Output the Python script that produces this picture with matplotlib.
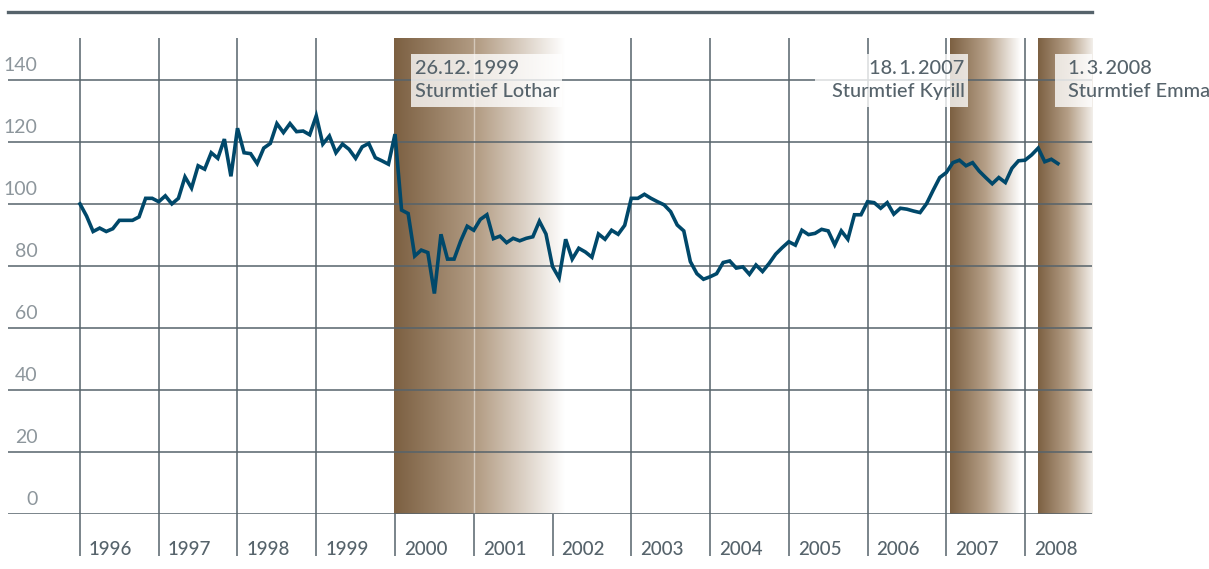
import numpy as np
import matplotlib
matplotlib.use("Agg")
import matplotlib.pyplot as plt
from matplotlib.colors import LinearSegmentedColormap
from matplotlib.lines import Line2D
from matplotlib.patches import Rectangle

# monthly index values, Jan 1996 .. Jun 2008
values = [
    100.0, 96.1, 91.1, 92.2, 91.1, 92.0, 94.7, 94.7, 94.7, 95.8, 101.8, 101.8,
    100.7, 102.6, 100.0, 101.8, 108.7, 105.1, 112.3, 111.2, 116.5, 114.7, 120.9, 108.9,
    124.4, 116.5, 116.2, 113.0, 118.0, 119.5, 125.9, 123.0, 125.9, 123.3, 123.5, 122.3,
    128.4, 119.3, 121.9, 116.5, 119.3, 117.6, 114.7, 118.4, 119.5, 114.9, 113.9, 112.8,
    122.5, 98.0, 96.9, 83.2, 85.1, 84.3, 71.1, 90.2, 82.2, 82.2, 88.0, 92.8,
    91.5, 95.0, 96.5, 88.8, 89.6, 87.5, 88.9, 88.1, 88.9, 89.4, 94.4, 90.3,
    79.8, 76.1, 88.6, 82.2, 85.7, 84.5, 82.8, 90.3, 88.6, 91.5, 90.2, 93.1,
    101.8, 101.8, 103.1, 101.8, 100.7, 99.7, 97.5, 93.2, 91.3, 81.4, 77.5, 75.7,
    76.5, 77.5, 81.1, 81.6, 79.3, 79.7, 77.3, 80.3, 78.2, 80.8, 83.8, 85.9,
    87.8, 86.7, 91.5, 90.1, 90.5, 91.8, 91.3, 86.8, 91.3, 88.6, 96.5, 96.5,
    100.7, 100.4, 98.6, 100.4, 96.7, 98.6, 98.3, 97.7, 97.2, 100.1, 104.4, 108.5,
    110.1, 113.3, 114.1, 112.3, 113.3, 110.6, 108.5, 106.5, 108.5, 106.9, 111.5, 113.9,
    114.1, 115.8, 118.0, 113.6, 114.4, 113.0,
]
months = 1996 + np.arange(len(values)) / 12

years = list(range(1996, 2009))
yticks = [0, 20, 40, 60, 80, 100, 120, 140]

# storms: date (decimal year), label lines, duration of shaded band (years)
storm_dates = [1999 + 359 / 365, 2007 + 17 / 365, 2008 + 60 / 366]
storm_day = ["26.12.\u20091999", "18.\u20091.\u20092007", "1.\u20093.\u20092008"]
storm_name = ["Sturmtief Lothar", "Sturmtief Kyrill", "Sturmtief Emma"]
band_len = [2.17, 0.89, 0.75]

GRID = "#56636b"
LINE = "#00486a"
TXT = "#56636b"
FONT = ["Lato", "DejaVu Sans"]

fig = plt.figure(figsize=(12.09, 5.69), dpi=100)
ax = fig.add_axes([8 / 1209, 1 - 514 / 569, (1092 - 8) / 1209, (514 - 38) / 569])
x0, x1 = 1995.086, 2008.85
y0, y1 = 0, 153.5
ax.set_xlim(x0, x1)
ax.set_ylim(y0, y1)
ax.axis("off")

# top rule
fig.add_artist(Line2D([8 / 1209, 1092 / 1209], [1 - 12 / 569] * 2, lw=2.4, color=GRID))

# vertical year lines, running down into the label area
ax.vlines(years, -13.6, y1, color=GRID, lw=1.1, clip_on=False, zorder=1)

# shaded storm bands
cmap = LinearSegmentedColormap.from_list("storm", ["#7c6042", "#b59f87", "#ffffff"])
grad = np.linspace(0, 1, 256).reshape(1, -1)
for d, w in zip(storm_dates, band_len):
    ax.imshow(grad, cmap=cmap, aspect="auto", extent=[d, d + w, 0, y1],
              zorder=2, interpolation="bilinear")
ax.vlines([2001], 0, y1, color="white", alpha=0.45, lw=1, zorder=2.5)

# horizontal gridlines
for v in yticks:
    ax.axhline(v, color=GRID, lw=1.1, zorder=3)
    ax.text(1995.46, v + 2.9, str(v), ha="right", va="baseline", fontsize=14,
            color="#8d969c", family=FONT, zorder=7)

for yr in years:
    ax.text(yr + 0.115, -13.2, str(yr), ha="left", va="baseline", fontsize=13.5,
            color=TXT, family=FONT, fontweight="medium", clip_on=False)

# annotation boxes
box_x = [(2000.2, 2002.12), (2005.33, 2007.28), (2008.38, 2008.85)]
text_x = [2000.25, 2007.23, 2008.55]
text_ha = ["left", "right", "left"]
for (bx0, bx1), tx, ha, day, name in zip(box_x, text_x, text_ha, storm_day, storm_name):
    ax.add_patch(Rectangle((bx0, 131.3), bx1 - bx0, 17.1, facecolor="white",
                           alpha=0.78, edgecolor="none", zorder=4))
    ax.text(tx, 141.9, day, ha=ha, va="baseline", fontsize=14.3, color=TXT,
            family=FONT, fontweight="medium", zorder=7, clip_on=False)
    ax.text(tx, 134.6, name, ha=ha, va="baseline", fontsize=14.3, color=TXT,
            family=FONT, fontweight="medium", zorder=7, clip_on=False)

ax.plot(months, values, color=LINE, lw=2.6, zorder=6, solid_joinstyle="miter")

fig.savefig("out.png", dpi=100)
